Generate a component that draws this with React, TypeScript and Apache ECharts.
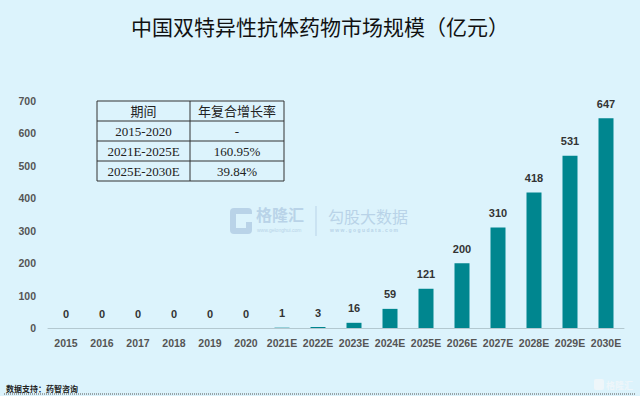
import React, { useEffect, useRef } from "react";
import * as echarts from "echarts";

const title = "中国双特异性抗体药物市场规模（亿元）";
const categories = ["2015", "2016", "2017", "2018", "2019", "2020", "2021E", "2022E", "2023E", "2024E", "2025E", "2026E", "2027E", "2028E", "2029E", "2030E"];
const values = [0, 0, 0, 0, 0, 0, 1, 3, 16, 59, 121, 200, 310, 418, 531, 647];
const tableHeader = ["期间", "年复合增长率"];
const tablePeriods = ["2015-2020", "2021E-2025E", "2025E-2030E"];
const tableRates = ["-", "160.95%", "39.84%"];
const source = "数据支持：药智咨询";

export default function App() {
  const ref = useRef<HTMLDivElement>(null);
  useEffect(() => {
    const chart = echarts.init(ref.current!, undefined, { renderer: "svg" });
    const bg = "#dcf3fc";
    const tl = 97, tr = 284, tt = 101, colX = 190;
    const rowYs = [101, 121, 141, 161, 181];
    const tableEls: any[] = [];
    tableEls.push({ type: "rect", shape: { x: tl, y: tt, width: tr - tl, height: rowYs[4] - tt }, style: { fill: "none", stroke: "#333", lineWidth: 1 } });
    for (let i = 1; i < 4; i++) {
      tableEls.push({ type: "line", shape: { x1: tl, y1: rowYs[i], x2: tr, y2: rowYs[i] }, style: { stroke: "#333", lineWidth: 1 } });
    }
    tableEls.push({ type: "line", shape: { x1: colX, y1: tt, x2: colX, y2: rowYs[4] }, style: { stroke: "#333", lineWidth: 1 } });
    const rows = [tableHeader, ...tablePeriods.map((p, i) => [p, tableRates[i]])];
    rows.forEach((r, i) => {
      const cy = (rowYs[i] + rowYs[i + 1]) / 2;
      tableEls.push({ type: "text", x: (tl + colX) / 2, y: cy, style: { text: r[0], fill: "#222", font: "13px 'Liberation Serif', 'Noto Sans CJK SC', serif", align: "center", verticalAlign: "middle" } });
      tableEls.push({ type: "text", x: (colX + tr) / 2, y: cy, style: { text: r[1], fill: "#222", font: "13px 'Liberation Serif', 'Noto Sans CJK SC', serif", align: "center", verticalAlign: "middle" } });
    });

    const wm = "#b9d3e8";
    const watermark: any[] = [
      { type: "rect", shape: { x: 230, y: 208, width: 22, height: 26, r: 4 }, style: { fill: wm } },
      { type: "rect", shape: { x: 236, y: 214, width: 16, height: 8 }, style: { fill: bg } },
      { type: "rect", shape: { x: 236, y: 222, width: 10, height: 6 }, style: { fill: bg } },
      { type: "text", x: 256, y: 214, style: { text: "格隆汇", fill: wm, font: "bold 16px 'Noto Sans CJK SC'", verticalAlign: "middle" } },
      { type: "text", x: 257, y: 230, style: { text: "www.gelonghui.com", fill: wm, font: "5px 'Liberation Sans'", verticalAlign: "middle" } },
      { type: "line", shape: { x1: 316, y1: 206, x2: 316, y2: 236 }, style: { stroke: wm, lineWidth: 1 } },
      { type: "text", x: 328, y: 216, style: { text: "勾股大数据", fill: wm, font: "16px 'Noto Sans CJK SC'", verticalAlign: "middle" } },
      { type: "text", x: 330, y: 230, style: { text: "w w w . g o g u d a t a . c o m", fill: wm, font: "bold 5px 'Liberation Sans'", verticalAlign: "middle" } },
    ];

    chart.setOption({
      animation: false,
      backgroundColor: bg,
      title: {
        text: title,
        left: "center",
        top: 10,
        textStyle: { fontSize: 21, fontWeight: "normal", color: "#111", fontFamily: "'Noto Sans CJK SC', sans-serif" },
      },
      grid: { left: 48, right: 16, top: 101, bottom: 68, containLabel: false },
      xAxis: {
        type: "category",
        data: categories,
        axisLine: { lineStyle: { color: "#b3c8d0", width: 1 } },
        axisTick: { show: false },
        axisLabel: { color: "#555", fontSize: 10.5, fontWeight: "bold", fontFamily: "'Liberation Sans', Arial, sans-serif", margin: 9, interval: 0 },
      },
      yAxis: {
        type: "value",
        min: 0,
        max: 700,
        interval: 100,
        splitLine: { show: false },
        axisLine: { show: false },
        axisTick: { show: false },
        axisLabel: { color: "#555", fontSize: 10.5, fontWeight: "bold", fontFamily: "'Liberation Sans', Arial, sans-serif", margin: 12 },
      },
      series: [
        {
          type: "bar",
          data: values,
          barWidth: 15,
          itemStyle: { color: "#00868f" },
          label: { show: true, position: "top", distance: 9, color: "#333", fontSize: 11, fontWeight: "bold", fontFamily: "'Liberation Sans', Arial, sans-serif" },
        },
      ],
      graphic: [
        ...tableEls,
        ...watermark,
        { type: "text", x: 6, y: 388, style: { text: source, fill: "#222", font: "bold 8px 'Noto Sans CJK SC'", verticalAlign: "middle" } },
        { type: "line", shape: { x1: 4, y1: 394, x2: 636, y2: 394 }, style: { stroke: "#555", lineWidth: 1, lineDash: [1, 1] } },
        { type: "rect", shape: { x: 594, y: 379, width: 10, height: 11, r: 2 }, style: { fill: "#eef6fa" } },
        { type: "text", x: 606, y: 385, style: { text: "格隆汇", fill: "#eef6fa", font: "bold 9px 'Noto Sans CJK SC'", verticalAlign: "middle" } },
      ],
    });
    return () => chart.dispose();
  }, []);
  return <div ref={ref} style={{ position: "absolute", left: 0, top: 0, width: 640, height: 396 }} />;
}
